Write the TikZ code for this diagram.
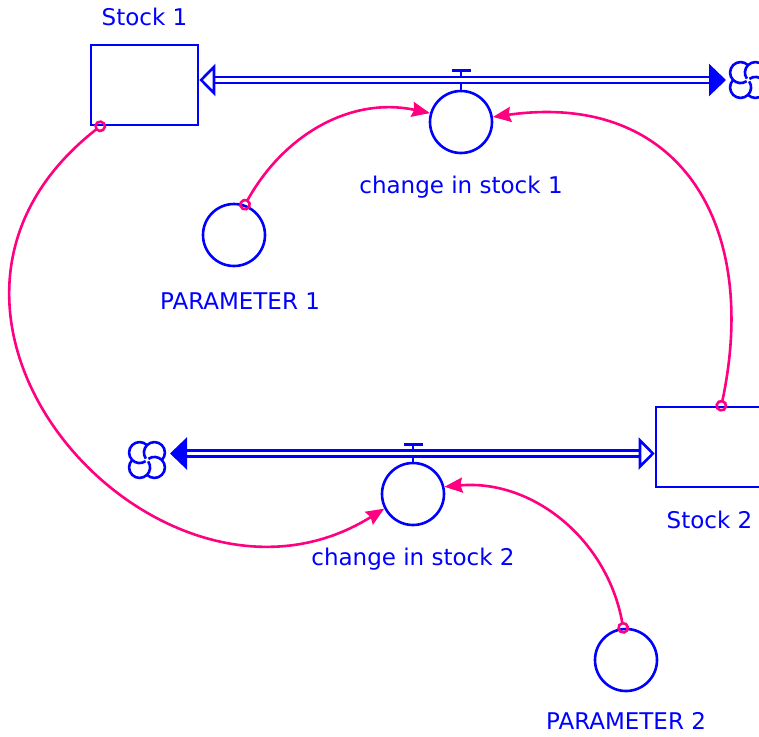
\documentclass[tikz,border=0pt]{standalone}
\usepackage{fontspec}
\setmainfont{DejaVu Sans}
\usetikzlibrary{positioning,arrows.meta}
\definecolor{flowblue}{RGB}{0,0,255}
\definecolor{linkpink}{RGB}{255,0,128}

\tikzset{
  cloudicon/.pic={
    \foreach \a in {45,135,225,315}
      \draw[flowblue, line width=2.6pt] (\a:10.5) ++({\a-90}:10.5) arc[start angle={\a-90}, end angle={\a+170}, radius=10.5];
  }
}

\begin{document}
\begin{tikzpicture}[x=1pt, y=1pt,
  font=\fontsize{23}{27}\selectfont,
  stockbox/.style={rectangle, draw=flowblue, line width=2.6pt, minimum width=107pt, minimum height=80pt},
  valve/.style={circle, draw=flowblue, line width=2.6pt, minimum size=62pt, inner sep=0pt},
  aux/.style={circle, draw=flowblue, line width=2.6pt, minimum size=62pt, inner sep=0pt},
  tag/.style={text=flowblue, inner sep=0pt},
  pipe/.style={draw=flowblue, line width=2.6pt, double=white, double distance=3.5pt},
  stem/.style={draw=flowblue, line width=2.6pt},
  link/.style={draw=linkpink, line width=2.6pt, {Circle[open,length=12pt,width=12pt]}-{Stealth[length=18pt,width=15pt,inset=2pt]}, shorten <=-6pt}
]
  \useasboundingbox (0,0) rectangle (759,-736);

  % Stocks
  \node[stockbox] (stock1) at (144.5,-85) {};
  \node[tag, above=18pt of stock1] (stock1tag) {Stock 1};
  \node[stockbox] (stock2) at (709.5,-447) {};
  \node[tag, below=23pt of stock2] (stock2tag) {Stock 2};

  % Valves and parameters
  \node[valve] (valve1) at (461,-122) {};
  \node[tag, below=22pt of valve1] (valve1tag) {change in stock 1};
  \node[valve] (valve2) at (413,-494) {};
  \node[tag, below=22pt of valve2] (valve2tag) {change in stock 2};
  \node[aux] (param1) at (234,-235) {};
  \node[tag, below=25pt of param1, xshift=6pt] (param1tag) {PARAMETER 1};
  \node[aux] (param2) at (626,-660) {};
  \node[tag, below=20pt of param2] (param2tag) {PARAMETER 2};

  % Clouds
  \coordinate (cloud1) at (748,-80);
  \coordinate (cloud2) at (147,-460);
  \pic at (cloud1) {cloudicon};
  \pic at (cloud2) {cloudicon};

  % Flows
  \coordinate (pipe1) at (461,-80);
  \coordinate (pipe2) at (413,-453.5);
  \draw[stem] (valve1.north) -- ++(0,19) ++(-9.5,0) -- ++(19,0);
  \draw[stem] (valve2.north) -- ++(0,17) ++(-9.5,0) -- ++(19,0);
  \draw[pipe, {Triangle[open, length=16pt, width=32pt]}-{Triangle[length=17pt, width=32pt]}] (stock1.east |- pipe1) -- ([xshift=-22pt]cloud1 |- pipe1);
  \draw[pipe, {Triangle[length=17pt, width=32pt]}-{Triangle[open, length=16pt, width=32pt]}] ([xshift=23pt]cloud2 |- pipe2) -- (stock2.west |- pipe2);

  % Links
  \draw[link] (param1.70) to[out=61, in=168] (valve1.164);
  \draw[link] (stock2.74) to[out=78, in=8, looseness=1.3] (valve1.9);
  \draw[link] (stock1.223) to[out=218, in=212, out looseness=1.65, in looseness=1.42] (valve2.207);
  \draw[link] (param2.95) to[out=100, in=5] (valve2.13);
\end{tikzpicture}
\end{document}
